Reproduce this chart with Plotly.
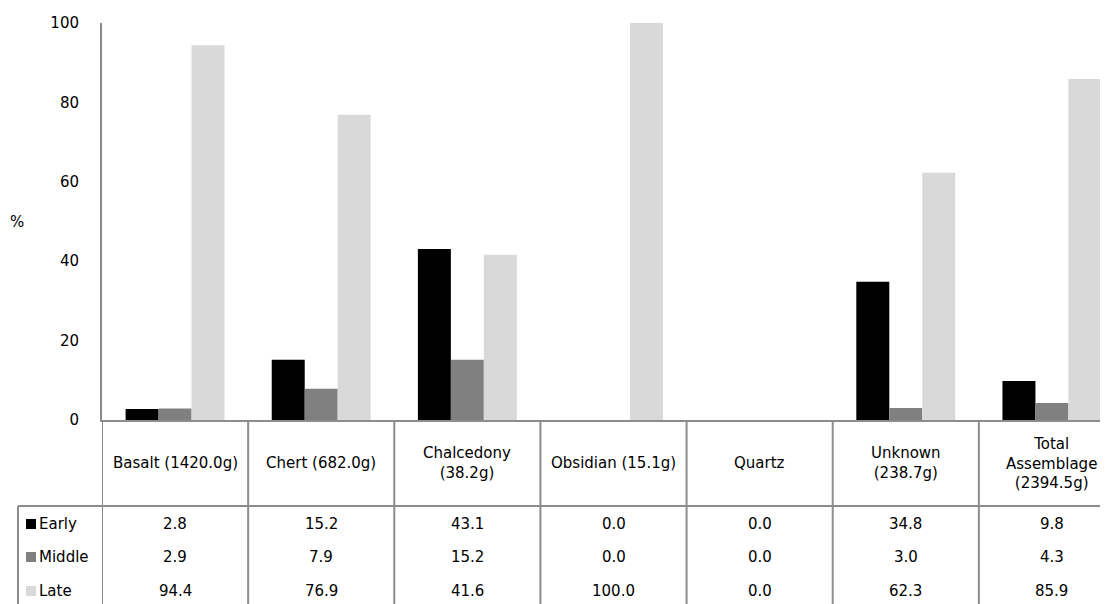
import plotly.graph_objects as go

categories = ["Basalt (1420.0g)", "Chert (682.0g)", "Chalcedony<br>(38.2g)", "Obsidian (15.1g)",
              "Quartz", "Unknown<br>(238.7g)", "Total<br>Assemblage<br>(2394.5g)"]
series_names = ["Early", "Middle", "Late"]
early = [2.8, 15.2, 43.1, 0.0, 0.0, 34.8, 9.8]
middle = [2.9, 7.9, 15.2, 0.0, 0.0, 3.0, 4.3]
late = [94.4, 76.9, 41.6, 100.0, 0.0, 62.3, 85.9]
colors = ["#000000", "#808080", "#D9D9D9"]
y_ticks = [0, 20, 40, 60, 80, 100]

OFF = 8  # default page body margin
W, H = 1108 - OFF, 604 - OFF
L, T = 102 - OFF, 23 - OFF
PLOT_BOTTOM = 420 - OFF
B = H - PLOT_BOTTOM
plot_h = H - T - B
plot_w = W - L
FONT = "DejaVu Sans"
FS = 15
LINE = "#8C8C8C"
LW = 2

def py(p):  # page pixel y -> paper
    return (PLOT_BOTTOM - (p - OFF)) / plot_h

def px(p):
    return ((p - OFF) - L) / plot_w

x_idx = list(range(len(categories)))
fig = go.Figure()
for name, vals, c in zip(series_names, [early, middle, late], colors):
    fig.add_trace(go.Bar(x=x_idx, y=vals, name=name, marker=dict(color=c, line=dict(width=0)),
                         showlegend=False))

shapes = []
annotations = []
n = len(categories)
for i in range(n + 1):
    shapes.append(dict(type="line", xref="x", yref="paper", x0=i - 0.5, x1=i - 0.5,
                       y0=0, y1=py(604), line=dict(color=LINE, width=LW)))
shapes.append(dict(type="line", xref="paper", yref="paper", x0=px(18), x1=1,
                   y0=py(506), y1=py(506), line=dict(color=LINE, width=LW)))
shapes.append(dict(type="line", xref="paper", yref="paper", x0=px(18), x1=px(18),
                   y0=py(506), y1=py(604), line=dict(color=LINE, width=LW)))

for i, c in enumerate(categories):
    annotations.append(dict(x=i, y=py(463), xref="x", yref="paper", text=c, showarrow=False,
                            font=dict(family=FONT, size=FS, color="#000"), align="center",
                            xanchor="center", yanchor="middle"))

row_y = [524, 557, 591]
for r, (name, vals, c) in enumerate(zip(series_names, [early, middle, late], colors)):
    yy = py(row_y[r])
    for i, v in enumerate(vals):
        annotations.append(dict(x=i, y=yy, xref="x", yref="paper", text=f"{v:.1f}", showarrow=False,
                                font=dict(family=FONT, size=FS, color="#000"),
                                xanchor="center", yanchor="middle"))
    shapes.append(dict(type="rect", xref="paper", yref="paper", x0=px(26), x1=px(36),
                       y0=py(row_y[r] + 5), y1=py(row_y[r] - 5), fillcolor=c, line=dict(width=0)))
    annotations.append(dict(x=px(37), y=yy, xref="paper", yref="paper", text=name, showarrow=False,
                            font=dict(family=FONT, size=FS, color="#000"),
                            xanchor="left", yanchor="middle"))

annotations.append(dict(x=px(8), y=py(222), xref="paper", yref="paper", text="%", showarrow=False,
                        font=dict(family=FONT, size=FS, color="#000"), xanchor="left", yanchor="middle"))

fig.update_layout(
    width=W, height=H,
    margin=dict(l=L, r=0, t=T, b=B, pad=0),
    paper_bgcolor="white", plot_bgcolor="white",
    barmode="group", bargap=0.323, bargroupgap=0,
    shapes=shapes, annotations=annotations,
    xaxis=dict(type="linear", range=[-0.5, 6.5 - 17 / 146.2], showticklabels=False, showgrid=False,
               zeroline=False, showline=True, linecolor=LINE, linewidth=LW, ticks=""),
    yaxis=dict(range=[0, 100], tickvals=y_ticks, showgrid=False, zeroline=False, showline=True,
               linecolor=LINE, linewidth=LW, ticks="", ticklabelstandoff=18,
               tickfont=dict(family=FONT, size=FS, color="#000")),
)
fig.write_html("out.html")
